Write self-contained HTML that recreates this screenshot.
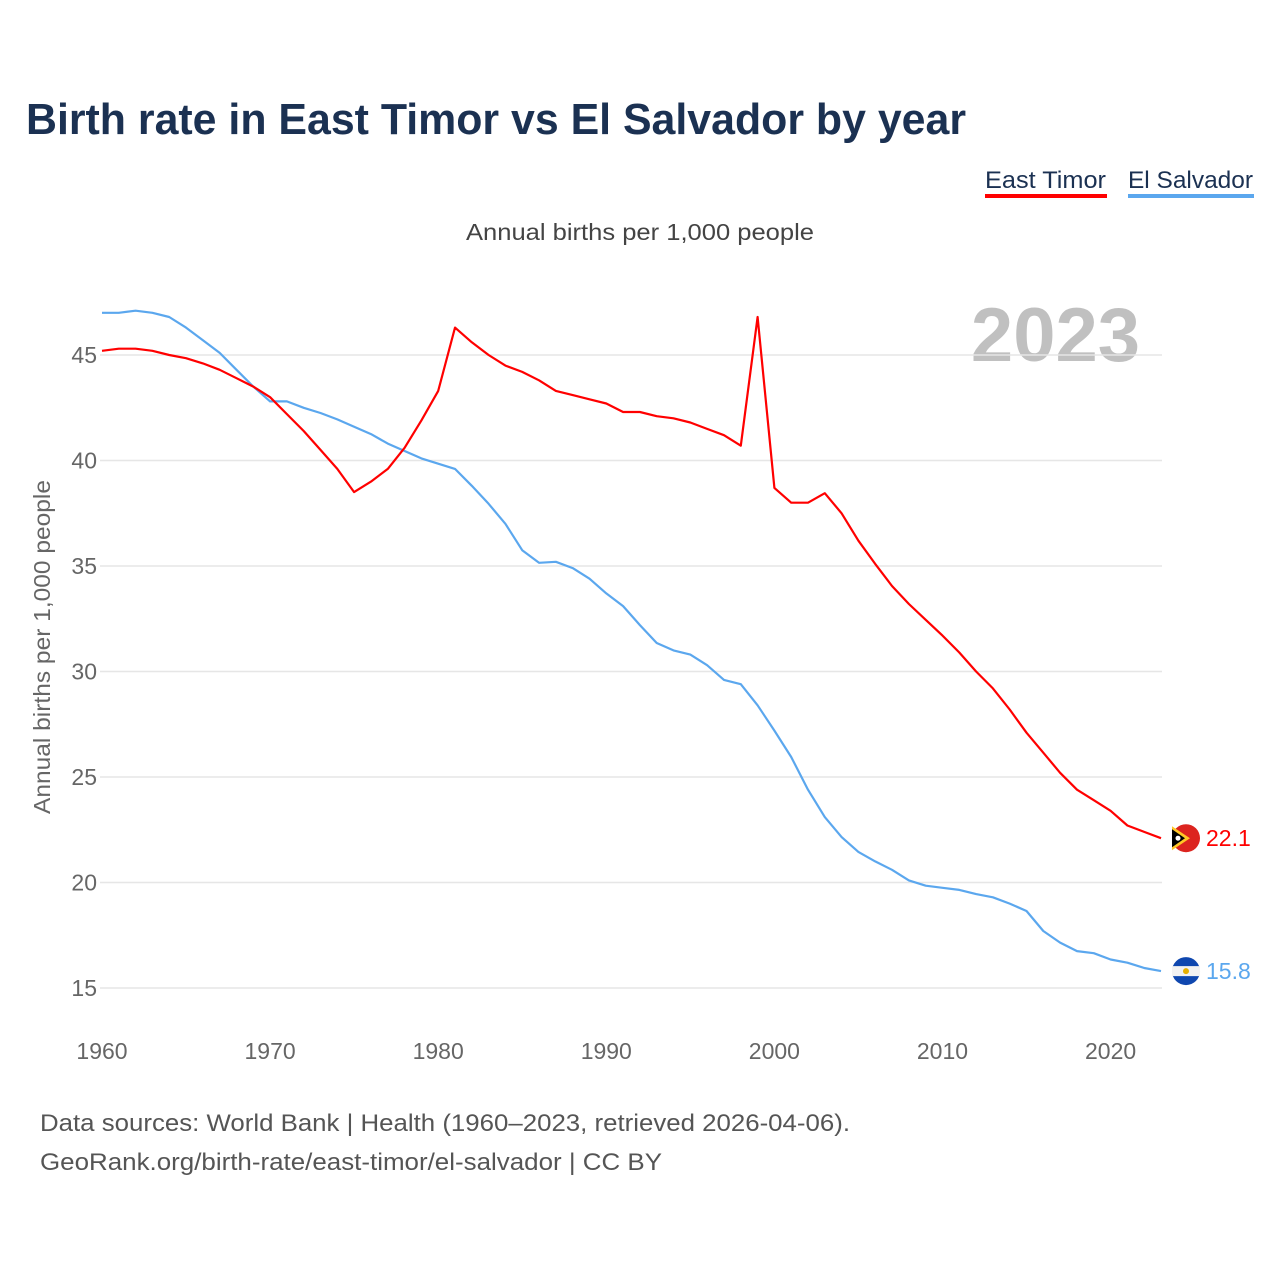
<!DOCTYPE html>
<html><head><meta charset="utf-8"><style>
body{margin:0;background:#fff;font-family:"Liberation Sans",sans-serif}
svg{display:block}
</style></head><body>
<svg id="c" width="1280" height="1280" xmlns="http://www.w3.org/2000/svg">
<text x="26" y="134" font-size="44" font-weight="bold" fill="#1b3152" textLength="940" lengthAdjust="spacingAndGlyphs">Birth rate in East Timor vs El Salvador by year</text>
<g>
<text x="985" y="188" font-size="24" fill="#1b3152" textLength="121" lengthAdjust="spacingAndGlyphs">East Timor</text>
<rect x="985" y="194" width="122" height="4" fill="#ff0000"/>
<text x="1128" y="188" font-size="24" fill="#1b3152" textLength="125" lengthAdjust="spacingAndGlyphs">El Salvador</text>
<rect x="1128" y="194" width="126" height="4" fill="#5ba7ee"/>
</g>
<text x="466" y="240" font-size="23" fill="#444" textLength="348" lengthAdjust="spacingAndGlyphs">Annual births per 1,000 people</text>
<text x="1140" y="361" font-size="76" font-weight="bold" fill="#c0c0c0" text-anchor="end">2023</text>
<text transform="translate(50,814) rotate(-90)" font-size="23" fill="#666" textLength="334" lengthAdjust="spacingAndGlyphs">Annual births per 1,000 people</text>
<g id="grid"></g><g id="lines"></g><g id="ends"></g>
<text x="40" y="1131" font-size="24" fill="#555" textLength="810" lengthAdjust="spacingAndGlyphs">Data sources: World Bank | Health (1960–2023, retrieved 2026-04-06).</text>
<text x="40" y="1170" font-size="24" fill="#555" textLength="622" lengthAdjust="spacingAndGlyphs">GeoRank.org/birth-rate/east-timor/el-salvador | CC BY</text>
</svg>
<script>
const years=[];for(let y=1960;y<=2023;y++)years.push(y);
const eastTimor=[45.2,45.3,45.3,45.2,45.0,44.85,44.6,44.3,43.9,43.5,43.0,42.2,41.4,40.5,39.6,38.5,39.0,39.6,40.6,41.9,43.3,46.3,45.6,45.0,44.5,44.2,43.8,43.3,43.1,42.9,42.7,42.3,42.3,42.1,42.0,41.8,41.5,41.2,40.7,46.8,38.7,38.0,38.0,38.45,37.5,36.2,35.1,34.05,33.2,32.45,31.7,30.9,30.0,29.2,28.2,27.1,26.15,25.2,24.4,23.9,23.4,22.7,22.4,22.1];
const elSalvador=[47.0,47.0,47.1,47.0,46.8,46.3,45.7,45.1,44.3,43.5,42.8,42.8,42.5,42.25,41.95,41.6,41.25,40.8,40.45,40.1,39.85,39.6,38.8,37.95,37.0,35.75,35.15,35.2,34.9,34.4,33.7,33.1,32.2,31.35,31.0,30.8,30.3,29.6,29.4,28.4,27.2,25.95,24.4,23.1,22.15,21.45,21.0,20.6,20.1,19.85,19.75,19.65,19.45,19.3,19.0,18.65,17.7,17.15,16.75,16.65,16.35,16.2,15.95,15.8];
const yTicks=[15,20,25,30,35,40,45];
const xTicks=[1960,1970,1980,1990,2000,2010,2020];
const NS="http://www.w3.org/2000/svg";
const xs=v=>102+(v-1960)*(1161-102)/63;
const ys=v=>355+(45-v)*(988-355)/30;
function mk(t,a,p){const e=document.createElementNS(NS,t);for(const k in a)e.setAttribute(k,a[k]);p.appendChild(e);return e;}
const grid=document.getElementById('grid');
yTicks.forEach(v=>{
 const l=mk('line',{x1:100,x2:1162,y1:ys(v),y2:ys(v),stroke:'#e6e6e6','stroke-width':1.5},grid);
 
 
 const t=mk('text',{x:97,y:ys(v)+8,'font-size':23,fill:'#666','text-anchor':'end'},grid);
 t.textContent=v;
 
 
});
xTicks.forEach(v=>{
 const t=mk('text',{x:xs(v),y:1059,'font-size':23,fill:'#666','text-anchor':'middle'},grid);
 t.textContent=v;
 
 
});
const lines=document.getElementById('lines');
function series(arr,col,name){
 const d=arr.map((v,i)=>(i?'L':'M')+xs(years[i]).toFixed(1)+','+ys(v).toFixed(1)).join('');
 const p=mk('path',{d:d,fill:'none',stroke:col,'stroke-width':2.2,'stroke-linejoin':'round'},lines);
 
 
}
series(elSalvador,'#5ba7ee','line-el-salvador');
series(eastTimor,'#ff0000','line-east-timor');
const ends=document.getElementById('ends');
function endMark(arr,col,name,flag){
 const v=arr[arr.length-1],y=ys(v),x=1186;
 const g=mk('g',{},ends);
 
 
 if(flag==='tl'){
  mk('circle',{cx:x,cy:y,r:14,fill:'#dc241f'},g);
  mk('path',{d:`M${x-14},${y-12}L${x+4},${y}L${x-14},${y+12}Z`,fill:'#ffc726'},g);
  mk('path',{d:`M${x-14},${y-9}L${x-1},${y}L${x-14},${y+9}Z`,fill:'#000'},g);
  mk('circle',{cx:x-8,cy:y,r:2.5,fill:'#fff'},g);
 }else{
  mk('circle',{cx:x,cy:y,r:14,fill:'#0f47af'},g);
  mk('rect',{x:x-14,y:y-5,width:28,height:10,fill:'#f2f2f2'},g);
  mk('circle',{cx:x,cy:y,r:3,fill:'#e8b000'},g);
 }
 const t=mk('text',{x:1206,y:y+8,'font-size':23,fill:col},g);
 t.textContent=v.toFixed(1);
 
 
}
endMark(eastTimor,'#ff0000','east-timor','tl');
endMark(elSalvador,'#5ba7ee','el-salvador','sv');
</script>
</body></html>
